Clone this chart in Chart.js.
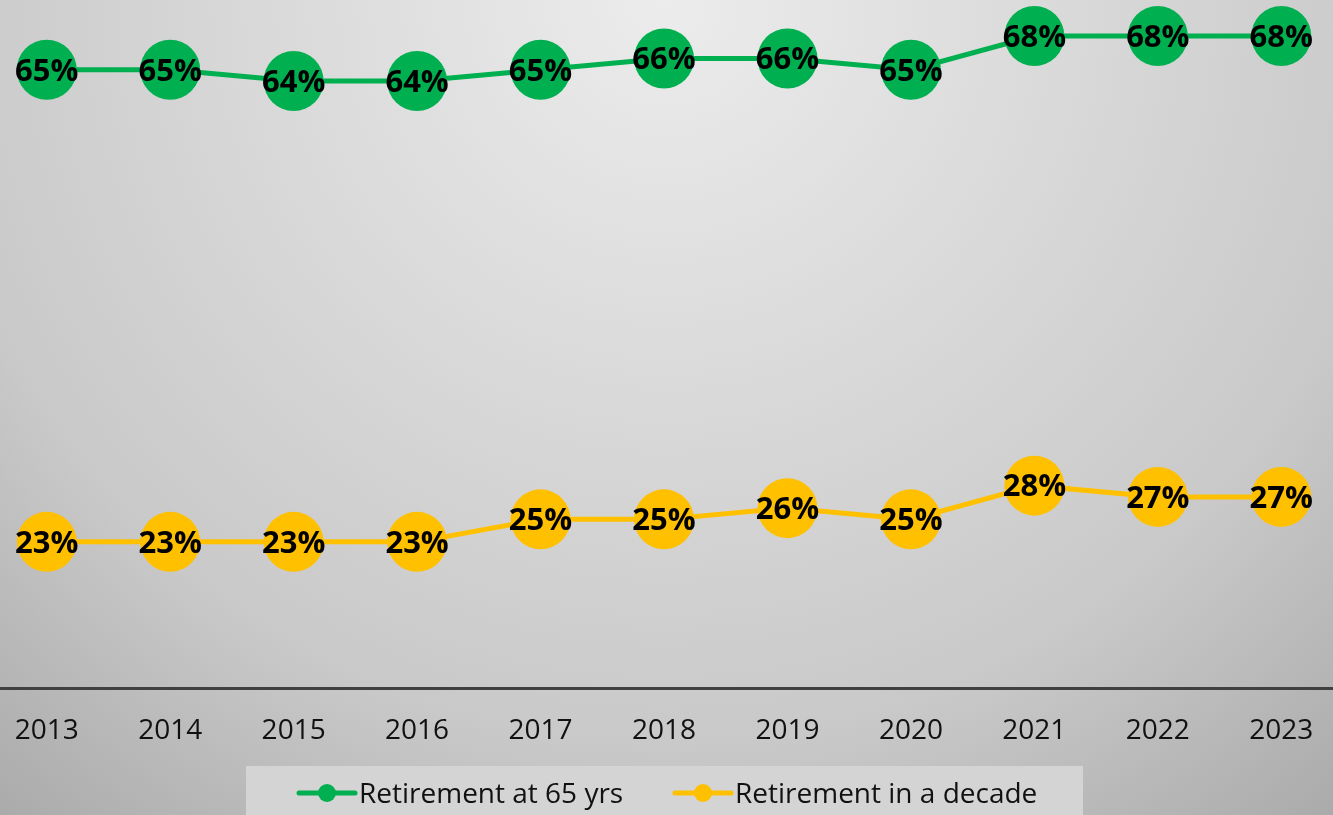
<!DOCTYPE html>
<html>
<head>
<meta charset="utf-8">
<script src="https://cdn.jsdelivr.net/npm/chart.js@4/dist/chart.umd.min.js"></script>
<style>
  html, body { margin: 0; padding: 0; width: 1333px; height: 815px; overflow: hidden; }
  body { background: radial-gradient(circle 1060px at 666px 0px, #ececec 0%, #c9c9c9 70%, #aaaaaa 100%); position: relative; }
  #wrap { position: absolute; left: -15px; top: 0; width: 1358px; height: 815px; }
</style>
</head>
<body>
<div id="wrap"><canvas id="c"></canvas></div>
<script>
const categories = ['2013','2014','2015','2016','2017','2018','2019','2020','2021','2022','2023'];
const retireAt65 = [65,65,64,64,65,66,66,65,68,68,68];
const retireInDecade = [23,23,23,23,25,25,26,25,28,27,27];
const seriesNames = ['Retirement at 65 yrs', 'Retirement in a decade'];
const seriesColors = ['#00B050', '#FFC000'];

const FONT = "'Open Sans', sans-serif";

const labelPlugin = {
  id: 'labels',
  afterDatasetsDraw(chart) {
    const ctx = chart.ctx;
    ctx.save();
    ctx.font = "bold 31px " + FONT;
    ctx.fillStyle = '#000';
    ctx.textAlign = 'center';
    ctx.textBaseline = 'middle';
    chart.data.datasets.forEach((ds, i) => {
      chart.getDatasetMeta(i).data.forEach((pt, j) => {
        ctx.fillText(ds.data[j] + '%', pt.x, pt.y + 2);
      });
    });
    ctx.restore();
  }
};

const legendPlugin = {
  id: 'customLegend',
  afterDraw(chart) {
    const ctx = chart.ctx;
    const off = 15; // canvas offset relative to viewport
    ctx.save();
    ctx.fillStyle = '#d4d4d4';
    ctx.fillRect(246 + off, 766, 837, 60);
    const items = [
      { x: 299, text: seriesNames[0], color: seriesColors[0] },
      { x: 675, text: seriesNames[1], color: seriesColors[1] }
    ];
    items.forEach(it => {
      const y = 793;
      ctx.strokeStyle = it.color;
      ctx.lineWidth = 5;
      ctx.lineCap = 'round';
      ctx.beginPath();
      ctx.moveTo(it.x + off, y);
      ctx.lineTo(it.x + 56 + off, y);
      ctx.stroke();
      ctx.fillStyle = it.color;
      ctx.beginPath();
      ctx.arc(it.x + 28 + off, y, 9, 0, Math.PI * 2);
      ctx.fill();
      ctx.fillStyle = '#111';
      ctx.font = "28px " + FONT;
      ctx.textAlign = 'left';
      ctx.textBaseline = 'alphabetic';
      ctx.fillText(it.text, it.x + 60 + off, 803);
    });
    ctx.restore();
  }
};

new Chart(document.getElementById('c'), {
  type: 'line',
  data: {
    labels: categories,
    datasets: [
      { label: seriesNames[0], data: retireAt65, borderColor: seriesColors[0], backgroundColor: seriesColors[0],
        borderWidth: 5, pointRadius: 30, pointHoverRadius: 30, pointBorderWidth: 0, tension: 0, clip: false },
      { label: seriesNames[1], data: retireInDecade, borderColor: seriesColors[1], backgroundColor: seriesColors[1],
        borderWidth: 5, pointRadius: 30, pointHoverRadius: 30, pointBorderWidth: 0, tension: 0, clip: false }
    ]
  },
  options: {
    responsive: true,
    maintainAspectRatio: false,
    animation: false,
    events: [],
    layout: { padding: 0, autoPadding: false },
    plugins: { legend: { display: false }, tooltip: { enabled: false } },
    scales: {
      x: {
        offset: true,
        grid: { display: false, drawTicks: false },
        border: { display: true, color: '#404040', width: 3 },
        ticks: { color: '#111', font: { family: FONT, size: 28 }, padding: 26 },
        afterFit(scale) { scale.height = 127; }
      },
      y: {
        display: false,
        min: 10,
        max: 71.2
      }
    }
  },
  plugins: [labelPlugin, legendPlugin]
});
</script>
</body>
</html>
